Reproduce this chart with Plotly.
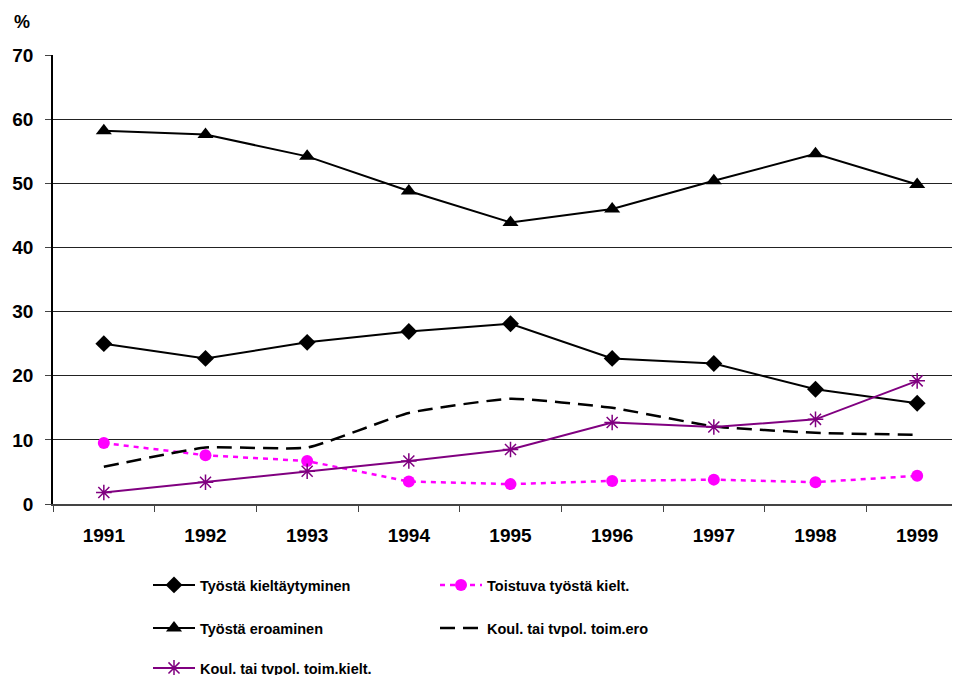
import plotly.graph_objects as go

years = ["1991", "1992", "1993", "1994", "1995", "1996", "1997", "1998", "1999"]

tyosta_kieltaytyminen = [25.0, 22.7, 25.2, 26.9, 28.1, 22.7, 21.9, 17.9, 15.7]
toistuva_kielt = [9.5, 7.6, 6.7, 3.5, 3.1, 3.6, 3.8, 3.4, 4.4]
tyosta_eroaminen = [58.2, 57.6, 54.2, 48.8, 43.9, 46.0, 50.4, 54.6, 49.8]
koul_toim_ero = [5.8, 8.8, 8.8, 14.2, 16.4, 15.0, 12.1, 11.1, 10.8]
koul_toim_kielt = [1.8, 3.4, 5.1, 6.7, 8.5, 12.7, 12.0, 13.2, 19.2]

FONT = "Liberation Sans, Arial, sans-serif"

# page body adds an 8px offset; plot area in screen pixels: x 53..968, y 55..504
L, T, R, B = 45, 47, 0, 179
PW, PH = 960 - L - R, 675 - T - B
OX, OY = 53, 504  # screen px of plot origin


def px_x(sx):
    return (sx - OX) / PW


def px_y(sy):
    return (OY - sy) / PH


fig = go.Figure()

fig.add_trace(go.Scatter(
    x=years, y=tyosta_kieltaytyminen, name="Työstä kieltäytyminen",
    mode="lines+markers", line=dict(color="black", width=2),
    marker=dict(symbol="diamond", size=13, color="black"), legend="legend"))
fig.add_trace(go.Scatter(
    x=years, y=toistuva_kielt, name="Toistuva työstä kielt.",
    mode="lines+markers", line=dict(color="#FF00FF", width=2.5, dash="5px,5px"),
    marker=dict(symbol="circle", size=12, color="#FF00FF"), legend="legend"))
fig.add_trace(go.Scatter(
    x=years, y=tyosta_eroaminen, name="Työstä eroaminen",
    mode="lines+markers", line=dict(color="black", width=2),
    marker=dict(symbol="triangle-up", size=14, color="black"), legend="legend2"))
fig.add_trace(go.Scatter(
    x=years, y=koul_toim_ero, name="Koul. tai tvpol. toim.ero",
    mode="lines", line=dict(color="black", width=2.5, dash="15px,8px", shape="spline", smoothing=0.45),
    legend="legend2"))
fig.add_trace(go.Scatter(
    x=years, y=koul_toim_kielt, name="Koul. tai tvpol. toim.kielt.",
    mode="lines+markers", line=dict(color="#800080", width=2),
    marker=dict(symbol="asterisk-open", size=13, color="#800080",
                line=dict(color="#800080", width=1.5)), legend="legend3"))

legend_common = dict(
    orientation="h", xanchor="left", yanchor="middle",
    font=dict(family=FONT, size=14.5, color="black", weight="bold"),
    entrywidth=230, entrywidthmode="pixels", itemwidth=42,
    bgcolor="rgba(0,0,0,0)", borderwidth=0, tracegroupgap=0,
)

LX = px_x(148)

fig.update_layout(
    width=960, height=675,
    margin=dict(l=L, r=R, t=T, b=B, autoexpand=False),
    paper_bgcolor="white", plot_bgcolor="white",
    font=dict(family=FONT, color="black"),
    showlegend=True,
    legend=dict(x=LX, y=px_y(585), **legend_common),
    legend2=dict(x=LX, y=px_y(628), **legend_common),
    legend3=dict(x=LX, y=px_y(668), **legend_common),
    xaxis=dict(
        type="category", range=[-0.5, 8.5],
        showline=True, linecolor="#444", linewidth=1.5,
        ticks="outside", tickson="boundaries", ticklen=6, tickcolor="#444",
        showgrid=False, zeroline=False,
        tickfont=dict(family=FONT, size=19, color="black", weight="bold"),
        ticklabelstandoff=13,
    ),
    yaxis=dict(
        range=[0, 70], dtick=10, tick0=0,
        showline=True, linecolor="black", linewidth=1.5,
        ticks="outside", ticklen=6, tickcolor="#444",
        showgrid=True, gridcolor="#222", gridwidth=1,
        zeroline=False,
        tickfont=dict(family=FONT, size=19, color="black", weight="bold"),
        ticklabelstandoff=8,
    ),
    annotations=[dict(
        text="%", x=px_x(22), y=px_y(22), xref="paper", yref="paper",
        xanchor="center", yanchor="middle", showarrow=False,
        font=dict(family=FONT, size=18, color="black", weight="bold"),
    )],
)

fig.write_html("out.html")
